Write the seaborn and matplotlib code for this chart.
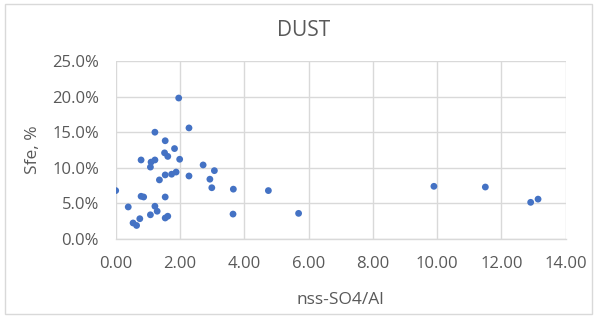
import matplotlib
matplotlib.use("Agg")
import matplotlib.pyplot as plt
import seaborn as sns
import pandas as pd
from matplotlib.ticker import FuncFormatter, MultipleLocator
from matplotlib.patches import Rectangle

ratio = [0.00, 0.39, 0.54, 0.65, 0.75, 0.79, 0.79, 0.87, 1.08, 1.08, 1.10, 1.22,
         1.22, 1.22, 1.29, 1.36, 1.52, 1.54, 1.54, 1.54, 1.54, 1.62, 1.62, 1.74,
         1.83, 1.88, 1.96, 1.99, 2.28, 2.28, 2.72, 2.93, 2.99, 3.07, 3.65, 3.66,
         4.75, 5.69, 9.90, 11.50, 12.91, 13.14]
sfe = [6.8, 4.5, 2.25, 1.9, 2.85, 11.1, 6.0, 5.9, 10.1, 3.4, 10.8, 15.0,
       11.1, 4.6, 3.9, 8.3, 12.1, 13.8, 9.0, 5.9, 2.95, 11.6, 3.2, 9.1,
       12.7, 9.4, 19.8, 11.2, 15.6, 8.85, 10.4, 8.4, 7.2, 9.6, 3.5, 7.0,
       6.8, 3.6, 7.4, 7.3, 5.15, 5.6]

df = pd.DataFrame({"nss-SO4/Al": ratio, "Sfe": sfe})

sns.set_theme(style="white")
plt.rcParams["font.family"] = ["Open Sans", "DejaVu Sans"]

W, H = 595, 316
fig = plt.figure(figsize=(W / 100, H / 100), dpi=100)
ax = fig.add_axes([115.7 / W, 1 - 239 / H, 450 / W, 178 / H])

sns.scatterplot(data=df, x="nss-SO4/Al", y="Sfe", ax=ax, color="#4472C4",
                s=24, edgecolor="none", zorder=3)

ax.set_xlim(0, 14)
ax.set_ylim(0, 25)
ax.xaxis.set_major_locator(MultipleLocator(2))
ax.yaxis.set_major_locator(MultipleLocator(5))
ax.xaxis.set_major_formatter(FuncFormatter(lambda v, p: f"{v:.2f}"))
ax.yaxis.set_major_formatter(FuncFormatter(lambda v, p: f"{v:.1f}%"))
ax.grid(True, color="#D9D9D9", linewidth=1.0, zorder=0)
for s in ["top", "right", "left"]:
    ax.spines[s].set_visible(False)
ax.spines["bottom"].set_color("#D9D9D9")
ax.spines["bottom"].set_linewidth(1.0)
ax.tick_params(axis="both", length=0, labelsize=12, labelcolor="#595959", pad=12)
ax.set_xlabel("")
ax.set_ylabel("")

fig.text(340 / W, 1 - 300 / H, "nss-SO4/Al", fontsize=12.5, color="#595959",
         ha="center", va="center")
fig.text(33 / W, 1 - 150 / H, "Sfe, %", fontsize=12.5, color="#595959",
         ha="center", va="center", rotation=90)
fig.text(304 / W, 1 - 30 / H, "DUST", fontsize=15, color="#595959",
         ha="center", va="center")

fig.patches.append(Rectangle((5 / W, 2 / H), 587 / W, 310 / H,
                             transform=fig.transFigure, fill=False,
                             edgecolor="#D9D9D9", linewidth=1.0))

fig.savefig("out.png", dpi=100)
